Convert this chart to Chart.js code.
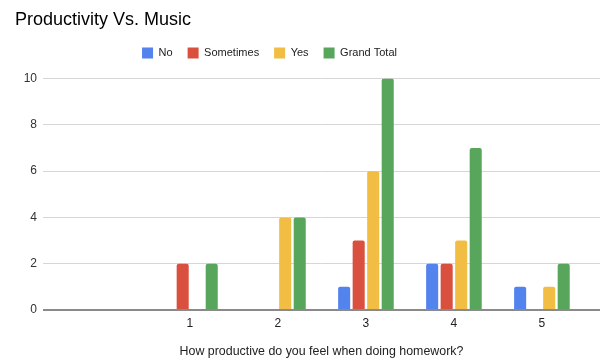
<!DOCTYPE html>
<html>
<head>
<meta charset="utf-8">
<script src="https://cdn.jsdelivr.net/npm/chart.js@4/dist/chart.umd.min.js"></script>
<style>
  html, body { margin: 0; padding: 0; background: #fff; }
  #wrap { width: 600px; height: 360px; }
</style>
</head>
<body>
<div id="wrap"><canvas id="chart" width="600" height="360"></canvas></div>
<script>
// answers on the x axis
const categories = [1, 2, 3, 4, 5];
const xTicks = [1, 2, 3, 4, 5];
const yTicks = [0, 2, 4, 6, 8, 10];

// counts per answer (null = no bar)
const noValues = [null, null, 1, 2, 1];
const sometimesValues = [2, null, 3, 2, null];
const yesValues = [null, 4, 6, 3, 1];
const grandTotalValues = [2, 4, 10, 7, 2];

const font = "'Liberation Sans', Arial, sans-serif";

function toPoints(values) {
  return categories.map((c, i) => ({ x: c, y: values[i] }));
}

function makeSet(label, values, color) {
  return {
    label: label,
    data: toPoints(values),
    backgroundColor: color,
    borderRadius: 2,
    borderSkipped: 'bottom',
    categoryPercentage: 0.66,
    barPercentage: 0.83
  };
}

// legend sits a bit left of centre in the original
const legendShift = {
  id: 'legendShift',
  afterLayout(chart) {
    chart.legend.left -= 38;
    chart.legend.right -= 38;
  }
};

new Chart(document.getElementById('chart'), {
  type: 'bar',
  data: {
    datasets: [
      makeSet('No', noValues, '#5383ec'),
      makeSet('Sometimes', sometimesValues, '#d9503f'),
      makeSet('Yes', yesValues, '#f1bd42'),
      makeSet('Grand Total', grandTotalValues, '#58a55c')
    ]
  },
  plugins: [legendShift],
  options: {
    responsive: false,
    animation: false,
    layout: { padding: { left: 15, right: 0, top: 0, bottom: 0 } },
    plugins: {
      title: {
        display: true,
        text: 'Productivity Vs. Music',
        align: 'start',
        color: '#000',
        font: { family: font, size: 18, weight: 'normal' },
        padding: { top: 9, bottom: 2 }
      },
      // empty spacer between legend and plot
      subtitle: {
        display: true,
        text: '',
        weight: 500,
        font: { size: 1, lineHeight: 1 },
        padding: { top: 9, bottom: 0 }
      },
      legend: {
        display: true,
        labels: {
          boxWidth: 11,
          boxHeight: 11,
          padding: 15,
          color: '#222',
          font: { family: font, size: 11 }
        }
      },
      tooltip: { enabled: false }
    },
    scales: {
      x: {
        type: 'linear',
        min: -0.67,
        max: 5.66,
        offset: false,
        grid: { display: false, drawTicks: false },
        border: { display: false },
        afterBuildTicks: s => { s.ticks = xTicks.map(v => ({ value: v })); },
        afterFit: s => { s.height = 50; },
        ticks: {
          padding: 6,
          color: '#222',
          font: { family: font, size: 12 },
          maxRotation: 0,
          callback: v => String(v)
        },
        title: {
          display: true,
          text: 'How productive do you feel when doing homework?',
          color: '#222',
          font: { family: font, size: 12.4 },
          padding: { top: 4, bottom: 1 }
        }
      },
      y: {
        min: 0,
        max: 10,
        afterBuildTicks: s => { s.ticks = yTicks.map(v => ({ value: v })); },
        afterFit: s => { s.width = 28; },
        grid: {
          drawTicks: false,
          color: ctx => ctx.tick && ctx.tick.value === 0 ? '#8a8a8a' : '#d6d6d6',
          lineWidth: ctx => ctx.tick && ctx.tick.value === 0 ? 2 : 1
        },
        border: { display: false },
        ticks: {
          padding: 6,
          color: '#333',
          font: { family: font, size: 12 }
        }
      }
    }
  }
});
</script>
</body>
</html>
